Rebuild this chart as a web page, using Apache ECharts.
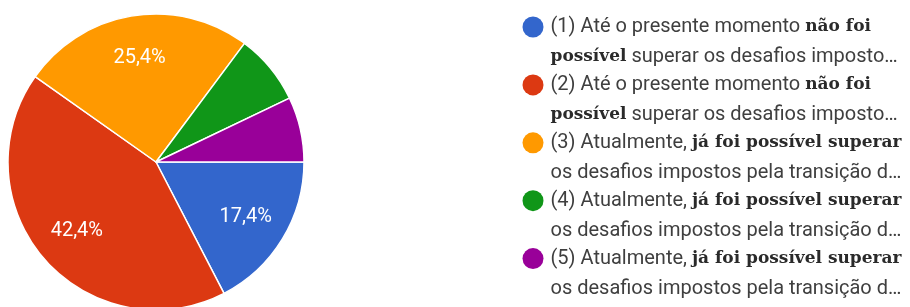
<!DOCTYPE html>
<html>
<head>
<meta charset="utf-8">
<script src="https://cdn.jsdelivr.net/npm/echarts@6/dist/echarts.min.js"></script>
<style>
  html, body { margin: 0; padding: 0; background: #fff; }
  #chart { width: 910px; height: 307px; }
</style>
</head>
<body>
<div id="chart"></div>
<script>
// answer options as shown in the legend ({b|...} = bold serif part)
const categories = [
  '(1) Até o presente momento {b|não foi}\n{b|possível} superar os desafios imposto…',
  '(2) Até o presente momento {b|não foi}\n{b|possível} superar os desafios imposto…',
  '(3) Atualmente, {b|já foi possível superar}\nos desafios impostos pela transição d…',
  '(4) Atualmente, {b|já foi possível superar}\nos desafios impostos pela transição d…',
  '(5) Atualmente, {b|já foi possível superar}\nos desafios impostos pela transição d…',
]
const percents = [17.4, 42.4, 25.4, 7.7, 7.1]
const colors = ['#3366cc', '#dc3912', '#ff9900', '#109618', '#990099']

const chart = echarts.init(document.getElementById('chart'))

const pieData = categories.map((name, i) => ({ name: name, value: percents[i] }))

const option = {
  color: colors,
  textStyle: {
    fontFamily: 'Roboto',
  },
  legend: {
    orient: 'vertical',
    left: 522.5,
    top: -18,
    height: 600,
    padding: 0,
    icon: 'circle',
    itemWidth: 25,
    itemHeight: 21,
    itemGap: -32.1,
    itemStyle: { borderWidth: 0 },
    selectedMode: false,
    data: categories,
    // leading blank line keeps the icon level with the first text line
    formatter: name => ' \n' + name,
    textStyle: {
      color: '#3f3f3f',
      fontSize: 20,
      lineHeight: 30,
      fontFamily: 'Roboto',
      rich: {
        b: {
          fontFamily: 'DejaVu Serif',
          fontWeight: 'bold',
          fontSize: 17,
          color: '#2a2a2a',
          lineHeight: 30,
        },
      },
    },
  },
  series: [{
    type: 'pie',
    center: [156, 162],
    radius: 148,
    startAngle: 0,
    clockwise: true,
    silent: true,
    label: { show: false },
    labelLine: { show: false },
    itemStyle: {
      borderColor: '#fff',
      borderWidth: 1.5,
    },
    data: pieData,
  }, {
    // transparent overlay, only used to place the percent labels further out
    type: 'pie',
    center: [156, 162],
    radius: [56, 148],
    startAngle: 0,
    clockwise: true,
    silent: true,
    itemStyle: { color: 'rgba(0,0,0,0)' },
    label: {
      show: true,
      position: 'inside',
      color: '#fff',
      fontSize: 20,
      fontFamily: 'Roboto',
      formatter: p => p.value >= 10 ? p.value.toFixed(1).replace('.', ',') + '%' : '',
    },
    labelLine: { show: false },
    data: pieData,
  }],
}

chart.setOption(option)
</script>
</body>
</html>
